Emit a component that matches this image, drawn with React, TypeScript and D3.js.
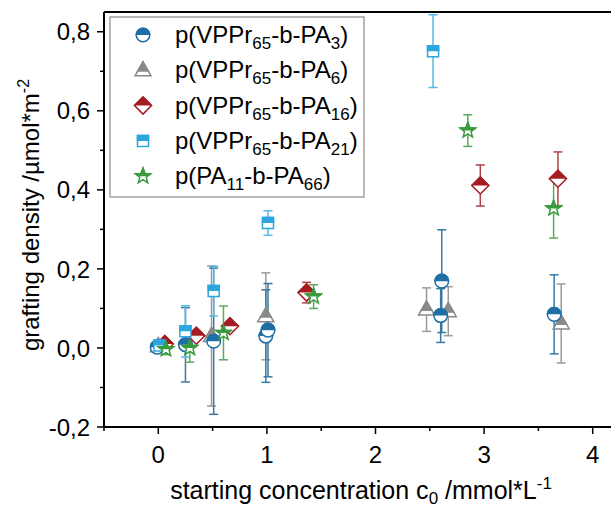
import React from 'react';
import * as d3 from 'd3';

// ---------- data ----------
const seriesLabels = [
  { pre: 'p(VPPr', s1: '65', mid: '-b-PA', s2: '3', post: ')' },
  { pre: 'p(VPPr', s1: '65', mid: '-b-PA', s2: '6', post: ')' },
  { pre: 'p(VPPr', s1: '65', mid: '-b-PA', s2: '16', post: ')' },
  { pre: 'p(VPPr', s1: '65', mid: '-b-PA', s2: '21', post: ')' },
  { pre: 'p(PA', s1: '11', mid: '-b-PA', s2: '66', post: ')' },
];

const pa3X = [-0.01, 0.25, 0.51, 0.99, 1.01, 2.6, 2.61, 3.645];
const pa3Y = [0.002, 0.008, 0.017, 0.03, 0.045, 0.082, 0.169, 0.085];
const pa3E = [0.006, 0.094, 0.185, 0.117, 0.118, 0.068, 0.13, 0.1];

const pa6X = [0.0, 0.49, 0.99, 2.47, 2.67, 3.71];
const pa6Y = [0.004, 0.03, 0.08, 0.097, 0.093, 0.062];
const pa6E = [0.005, 0.177, 0.11, 0.055, 0.062, 0.1];

const pa16X = [0.06, 0.35, 0.66, 1.365, 2.965, 3.68];
const pa16Y = [0.01, 0.031, 0.055, 0.14, 0.411, 0.428];
const pa16E = [0.008, 0.006, 0.006, 0.026, 0.052, 0.068];

const pa21X = [0.01, 0.25, 0.51, 1.01, 2.53];
const pa21Y = [0.006, 0.042, 0.144, 0.316, 0.751];
const pa21E = [0.006, 0.065, 0.063, 0.031, 0.092];

const pa66X = [0.07, 0.29, 0.6, 1.43, 2.85, 3.64];
const pa66Y = [-0.003, 0.0, 0.038, 0.13, 0.55, 0.353];
const pa66E = [0.014, 0.036, 0.068, 0.03, 0.04, 0.075];

const xTickValues = [0, 1, 2, 3, 4];
const xMinorValues = [-0.5, 0.5, 1.5, 2.5, 3.5];
const yTickValues = [-0.2, 0, 0.2, 0.4, 0.6, 0.8];
const yMinorValues = [-0.1, 0.1, 0.3, 0.5, 0.7];

const colors = ['#1f6fa6', '#8a8a8a', '#a51c23', '#2ba6e0', '#3a9b3e'];
const barColors = ['#3a78a3', '#9a9a9a', '#b04048', '#58b8e6', '#5aaa5e'];
const shapes = ['circle', 'triangle', 'diamond', 'square', 'star'];

// ---------- layout ----------
const W = 611;
const H = 510;
const FONT = 'Liberation Sans, Arial, Helvetica, sans-serif';

const x = d3.scaleLinear().domain([-0.5, 4.5]).range([104, 647]);
const y = d3.scaleLinear().domain([-0.2, 0.85]).range([427, 12]);

function shapePath(kind: string): string {
  switch (kind) {
    case 'circle': {
      const p = d3.path();
      p.arc(0, 0, 6.8, 0, Math.PI * 2);
      p.closePath();
      return p.toString();
    }
    case 'triangle':
      return 'M0,-8.5L8,5.5L-8,5.5Z';
    case 'diamond':
      return 'M0,-8.5L8.5,0L0,8.5L-8.5,0Z';
    case 'square':
      return 'M-5.5,-5.5L5.5,-5.5L5.5,5.5L-5.5,5.5Z';
    case 'star': {
      const pts: string[] = [];
      for (let i = 0; i < 10; i++) {
        const r = i % 2 === 0 ? 8 : 3.4;
        const a = -Math.PI / 2 + (i * Math.PI) / 5;
        pts.push(`${(r * Math.cos(a)).toFixed(2)},${(r * Math.sin(a)).toFixed(2)}`);
      }
      return 'M' + pts.join('L') + 'Z';
    }
  }
  return '';
}

function Marker({ kind, color, cx, cy }: { kind: string; color: string; cx: number; cy: number }) {
  const d = shapePath(kind);
  const clipId = kind === 'triangle' ? 'clipTopTri' : 'clipTop';
  return (
    <g transform={`translate(${cx},${cy})`}>
      <path d={d} fill="#fff" stroke={color} strokeWidth={1.5} />
      <path d={d} fill={color} stroke={color} strokeWidth={1.5} clipPath={`url(#${clipId})`} />
    </g>
  );
}

const allSeries = [
  { xs: pa3X, ys: pa3Y, es: pa3E },
  { xs: pa6X, ys: pa6Y, es: pa6E },
  { xs: pa16X, ys: pa16Y, es: pa16E },
  { xs: pa21X, ys: pa21Y, es: pa21E },
  { xs: pa66X, ys: pa66Y, es: pa66E },
];

const drawOrder = [1, 0, 2, 3, 4];

const fmt = (v: number) => d3.format('.1f')(v).replace('.', ',').replace('−', '-');

export default function App() {
  const cap = 4.5;
  return (
    <svg
      width={W}
      height={H}
      style={{ position: 'absolute', left: 0, top: 0, background: '#fff' }}
      fontFamily={FONT}
    >
      <defs>
        <clipPath id="clipTop" clipPathUnits="userSpaceOnUse">
          <rect x={-20} y={-20} width={40} height={20} />
        </clipPath>
        <clipPath id="clipTopTri" clipPathUnits="userSpaceOnUse">
          <rect x={-20} y={-20} width={40} height={21.5} />
        </clipPath>
      </defs>

      {/* error bars */}
      <g>
        {drawOrder.map((si) => {
          const s = allSeries[si];
          return s.xs.map((xv, i) => {
            const px = x(xv);
            const top = y(s.ys[i] + s.es[i]);
            const bot = y(s.ys[i] - s.es[i]);
            return (
              <g key={`e${si}-${i}`} stroke={barColors[si]} strokeWidth={1.5} fill="none">
                <line x1={px} x2={px} y1={top} y2={bot} />
                <line x1={px - cap} x2={px + cap} y1={top} y2={top} />
                <line x1={px - cap} x2={px + cap} y1={bot} y2={bot} />
              </g>
            );
          });
        })}
      </g>

      {/* markers */}
      <g>
        {drawOrder.map((si) => {
          const s = allSeries[si];
          return s.xs.map((xv, i) => (
            <Marker key={`m${si}-${i}`} kind={shapes[si]} color={colors[si]} cx={x(xv)} cy={y(s.ys[i])} />
          ));
        })}
      </g>

      {/* frame */}
      <g stroke="#000" strokeWidth={2} fill="none">
        <line x1={104} x2={W} y1={12} y2={12} />
        <line x1={104} x2={W} y1={427} y2={427} />
        <line x1={104} x2={104} y1={12} y2={427} />
      </g>

      {/* ticks */}
      <g stroke="#000" strokeWidth={1.5}>
        {yTickValues.map((v) => (
          <line key={`yt${v}`} x1={97} x2={104} y1={y(v)} y2={y(v)} />
        ))}
        {yMinorValues.map((v) => (
          <line key={`ym${v}`} x1={100} x2={104} y1={y(v)} y2={y(v)} />
        ))}
        {xTickValues.map((v) => (
          <line key={`xt${v}`} x1={x(v)} x2={x(v)} y1={427} y2={434} />
        ))}
        {xMinorValues.map((v) => (
          <line key={`xm${v}`} x1={x(v)} x2={x(v)} y1={427} y2={431} />
        ))}
      </g>

      <g fontSize={24} fill="#000">
        {yTickValues.map((v) => (
          <text key={`yl${v}`} x={90} y={y(v)} dy="0.36em" textAnchor="end">
            {fmt(v)}
          </text>
        ))}
        {xTickValues.map((v) => (
          <text key={`xl${v}`} x={x(v)} y={463} textAnchor="middle">
            {String(v)}
          </text>
        ))}
      </g>

      {/* axis titles */}
      <text x={361} y={499} fontSize={25} textAnchor="middle" fill="#000">
        starting concentration c
        <tspan fontSize={17} dy={5}>0</tspan>
        <tspan dy={-5}> /mmol*L</tspan>
        <tspan fontSize={17} dy={-10}>-1</tspan>
      </text>
      <text
        transform="translate(39,215) rotate(-90)"
        fontSize={24}
        textAnchor="middle"
        fill="#000"
      >
        grafting density /µmol*m
        <tspan fontSize={16} dy={-10}>-2</tspan>
      </text>

      {/* legend */}
      <g>
        <rect x={110} y={17} width={254} height={180} fill="#fff" stroke="#8a8a8a" strokeWidth={1.2} />
        {seriesLabels.map((lab, i) => {
          const cy = 35 + i * 35.3;
          return (
            <g key={`lg${i}`}>
              <Marker kind={shapes[i]} color={colors[i]} cx={143} cy={cy} />
              <text x={175} y={cy + 8} fontSize={24} fill="#000">
                {lab.pre}
                <tspan fontSize={17} dy={6}>{lab.s1}</tspan>
                <tspan dy={-6}>{lab.mid}</tspan>
                <tspan fontSize={17} dy={6}>{lab.s2}</tspan>
                <tspan dy={-6}>{lab.post}</tspan>
              </text>
            </g>
          );
        })}
      </g>
    </svg>
  );
}
